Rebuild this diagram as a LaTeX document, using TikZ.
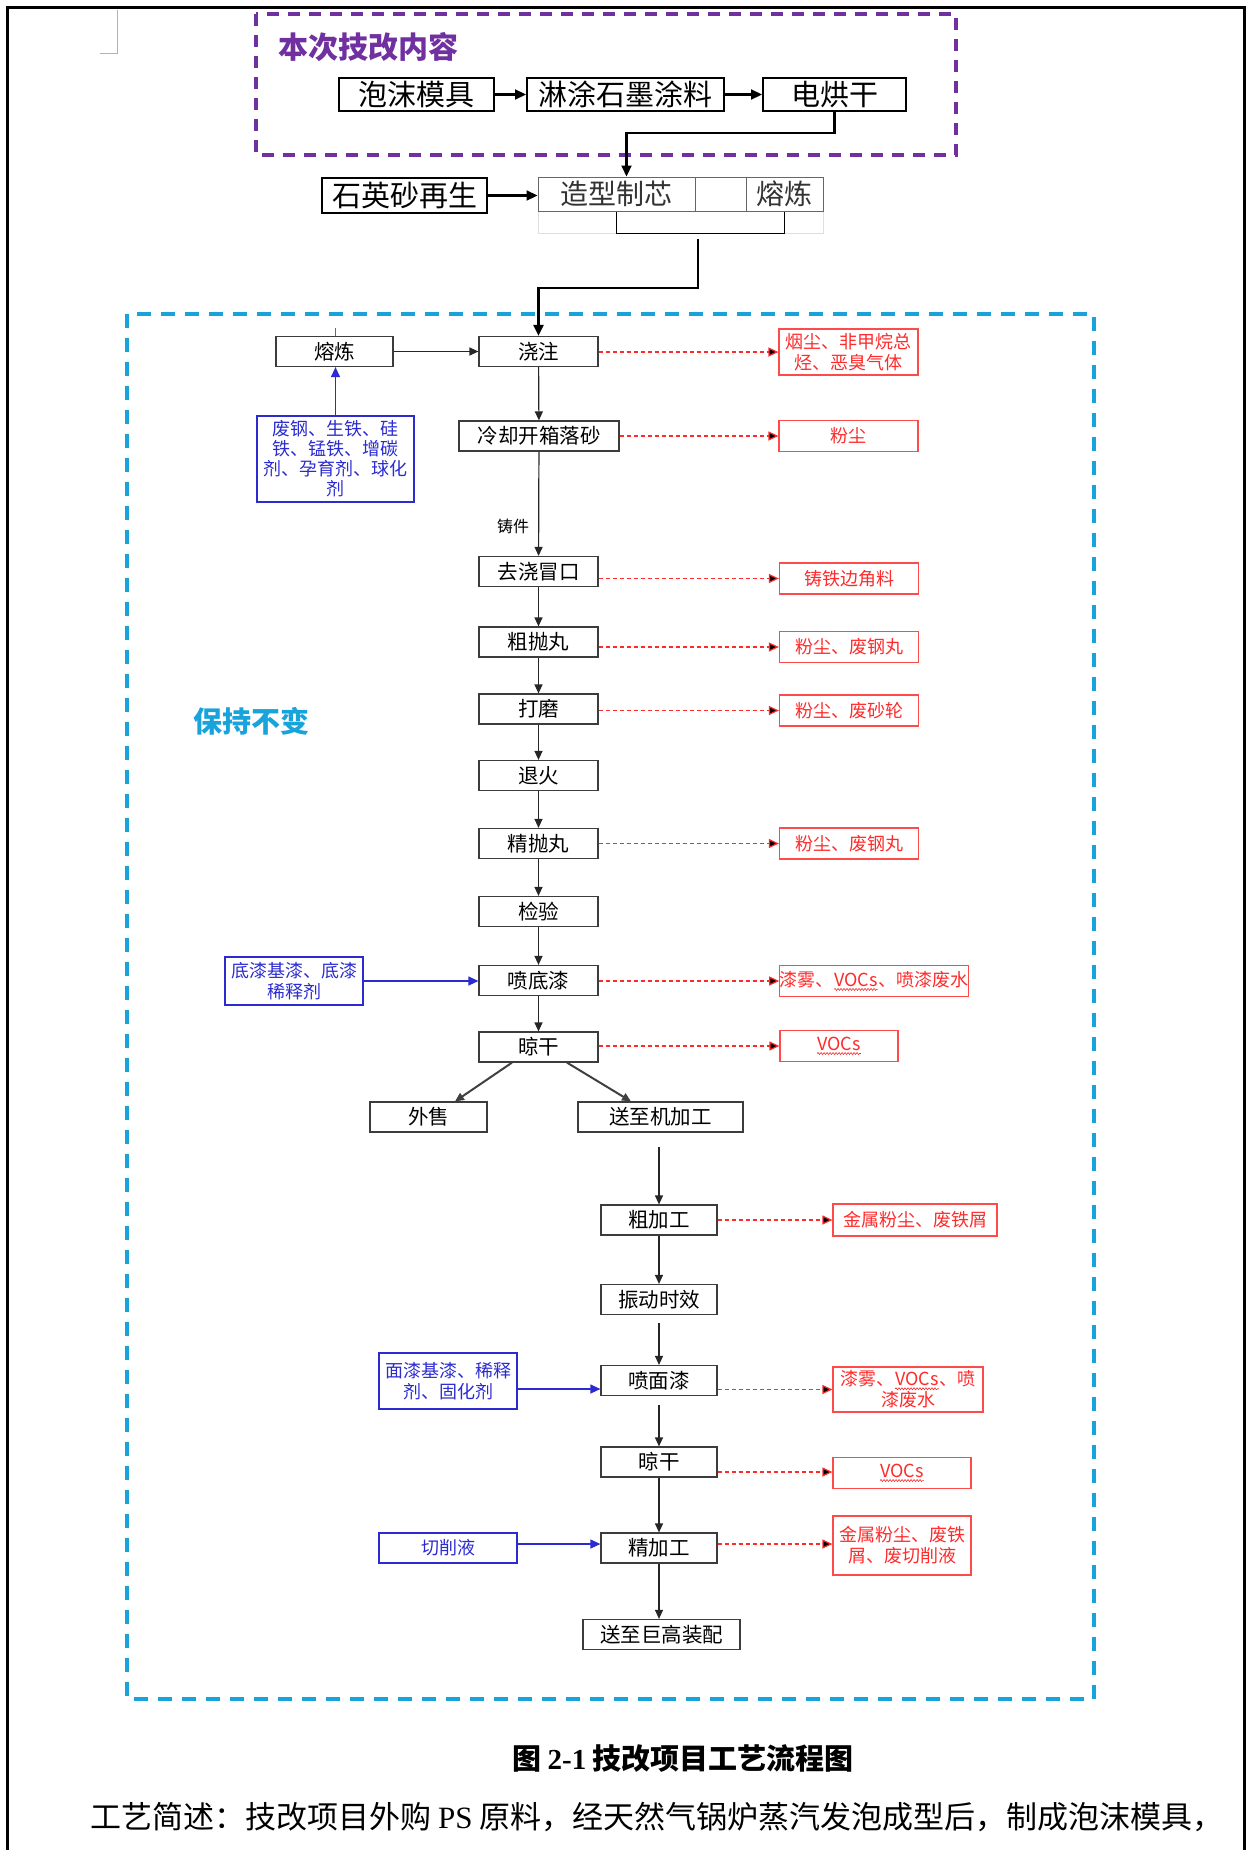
\documentclass[tikz,border=0pt]{standalone}
\usepackage{fontspec}
\setmainfont{Liberation Serif}
\newfontfamily\cjk{Noto Sans CJK SC}
\usetikzlibrary{arrows.meta, calc, decorations.pathmorphing}
\definecolor{purpledash}{HTML}{7030A0}
\definecolor{cyandash}{HTML}{19A3DB}
\definecolor{wastered}{HTML}{FF2A2A}
\definecolor{feedblue}{HTML}{2B2BD0}
\definecolor{boxgray}{HTML}{3C3C3C}
\newcommand\wavy[1]{\tikz[baseline=(wv.base), x=1pt, y=1pt]{\node[draw=none, fill=none, inner sep=0pt, minimum width=0pt, minimum height=0pt] (wv) {#1};
  \draw[wastered, line width=0.6pt, decorate, decoration={snake, amplitude=1pt, segment length=3pt}] ([yshift=-2.5pt]wv.south west) -- ([yshift=-2.5pt]wv.south east);}}

\begin{document}
\begin{tikzpicture}[x=1pt, y=-1pt,
    topbox/.style = {draw=black, line width=2pt, inner sep=0pt, minimum height=33pt, font=\cjk\fontsize{29}{32}\selectfont},
    cell/.style = {draw=black!60, line width=1pt, inner sep=0pt, minimum height=34pt, font=\cjk\fontsize{28}{31}\selectfont},
    procbox/.style = {draw=boxgray, line width=1.2pt, inner sep=0pt, minimum width=119pt, minimum height=30pt, font=\cjk\fontsize{20.5}{23}\selectfont},
    wastebox/.style = {draw=wastered!85, line width=1.2pt, inner sep=0pt, text=wastered, align=center, minimum width=139pt, minimum height=31pt, font=\cjk\fontsize{18}{21}\selectfont},
    feedbox/.style = {draw=feedblue, line width=1.2pt, inner sep=0pt, text=feedblue, align=center, minimum width=138pt, minimum height=30pt, font=\cjk\fontsize{18}{21}\selectfont},
    topflow/.style = {draw=black, line width=2.2pt, -{Triangle[length=11pt,width=10pt]}},
    flow/.style = {draw=black!85, line width=1.2pt, -{Triangle[length=9pt,width=8pt]}},
    wasteflow/.style = {draw=wastered, line width=1.2pt, dash pattern=on 4pt off 3pt, -{Triangle[length=10pt,width=9pt]}},
    feedflow/.style = {draw=feedblue, line width=1.2pt, -{Triangle[length=10pt,width=9pt]}}
]
\useasboundingbox (0,0) rectangle (1247,1850);

% Page frame
\draw [line width=3pt] (7,1850) -- (7,7) -- (1244,7) -- (1244,1850);
\draw [gray!60, line width=0.8pt] (100,53) -- (117,53) -- (117,10);

% Upgrade section
\draw [purpledash, line width=3.5pt, dash pattern=on 12pt off 9pt] (256,14) rectangle (956,155);
\node (newtitle) [anchor=west, text=purpledash, font=\cjk\bfseries\fontsize{30}{33}\selectfont] at (275,47) {本次技改内容};
\node (pm) [topbox, minimum width=155pt] at (416.5,94.5) {泡沫模具};
\node (lt) [topbox, minimum width=197pt] at (625.5,94.5) {淋涂石墨涂料};
\node (dhg) [topbox, minimum width=143pt] at (834.5,94.5) {电烘干};
\node (sys) [topbox, minimum width=165pt, minimum height=35pt] at (404.5,195.5) {石英砂再生};

% Moulding table
\node (row2) [draw=gray!25, line width=0.8pt, minimum width=285pt, minimum height=22pt, inner sep=0pt] at (680.5,222) {};
\node (zx) [cell, minimum width=157pt, text=black!80] at (616.5,194) {造型制芯};
\node (gap) [cell, minimum width=51pt] at (720.5,194) {};
\node (rl) [cell, minimum width=77pt, text=black!80] at (784.5,194) {熔炼};
\coordinate (brk) at (698,239);

\draw [topflow] (pm) -- (lt);
\draw [topflow] (lt) -- (dhg);
\draw [topflow] (dhg.south) -- ++(0,21) -| ([xshift=10pt]zx.north);
\draw [topflow] (sys.east) -- (sys.east -| zx.west);
\draw [black, line width=1.8pt] (zx.south) -- ++(0,22) -| (rl.south);

% Unchanged section
\draw [cyandash, line width=4pt, dash pattern=on 14pt off 10pt] (127,314) rectangle (1094,1699);
\node (keep) [text=cyandash, font=\cjk\bfseries\fontsize{29}{32}\selectfont] at (251,721) {保持不变};

% Casting line
\node (rl2) [procbox, minimum width=117pt] at (334.5,351.5) {熔炼};
\node (jz) [procbox] at (538.5,351.5) {浇注};
\node (lq) [procbox, minimum width=160pt] at (539,436) {冷却开箱落砂};
\node (qj) [procbox] at (538.5,571.5) {去浇冒口};
\node (pw1) [procbox] at (538.5,642) {粗抛丸};
\node (dm) [procbox] at (538.5,709) {打磨};
\node (th) [procbox] at (538.5,775.5) {退火};
\node (jp) [procbox] at (538.5,843.5) {精抛丸};
\node (jy) [procbox] at (538.5,911.5) {检验};
\node (pd) [procbox] at (538.5,980.5) {喷底漆};
\node (lg1) [procbox] at (538.5,1047) {晾干};
\node (ws) [procbox, minimum width=117pt] at (428.5,1117) {外售};
\node (sj) [procbox, minimum width=165pt] at (660.5,1117) {送至机加工};

% Machining line
\node (cj) [procbox, minimum width=116pt] at (659,1220) {粗加工};
\node (zd) [procbox, minimum width=116pt] at (659,1299.5) {振动时效};
\node (pm2) [procbox, minimum width=116pt] at (659,1380.5) {喷面漆};
\node (lg2) [procbox, minimum width=116pt] at (659,1462) {晾干};
\node (jj) [procbox, minimum width=116pt] at (659,1548) {精加工};
\node (zp) [procbox, minimum width=157pt] at (661.5,1634.5) {送至巨高装配};

% Inputs
\node (feed1) [feedbox, minimum width=157pt, minimum height=86pt, font=\cjk\fontsize{18}{20}\selectfont] at (335.5,459) {废钢、生铁、硅\\铁、锰铁、增碳\\剂、孕育剂、球化\\剂};
\node (feed2) [feedbox, minimum height=48pt] at (294,981) {底漆基漆、底漆\\稀释剂};
\node (feed3) [feedbox, minimum height=56pt] at (448,1381) {面漆基漆、稀释\\剂、固化剂};
\node (feed4) [feedbox] at (448,1548) {切削液};

% Emissions
\node (ys1) [wastebox, minimum height=46pt] at (848.5,352) {烟尘、非甲烷总\\烃、恶臭气体};
\node (fc1) [wastebox] at (848.5,436) {粉尘};
\node (zj) [wastebox] at (849,578.5) {铸铁边角料};
\node (fc2) [wastebox] at (849,647) {粉尘、废钢丸};
\node (fc3) [wastebox] at (849,710.5) {粉尘、废砂轮};
\node (fc4) [wastebox] at (849,843.5) {粉尘、废钢丸};
\node (pq1) [wastebox, minimum width=188pt] at (874,981) {漆雾、\wavy{VOCs}、喷漆废水};
\node (voc1) [wastebox, minimum width=118pt] at (839,1046) {\wavy{VOCs}};
\node (jf1) [wastebox, minimum width=164pt, minimum height=32pt] at (915,1220) {金属粉尘、废铁屑};
\node (pq2) [wastebox, minimum width=150pt, minimum height=45pt] at (908,1389.5) {漆雾、\wavy{VOCs}、喷\\漆废水};
\node (voc2) [wastebox, minimum width=138pt] at (902,1473) {\wavy{VOCs}};
\node (jf2) [wastebox, minimum width=138pt, minimum height=59pt] at (902,1545.5) {金属粉尘、废铁\\屑、废切削液};

% Main flow
\draw [wastered, line width=1pt] (rl2.north) ++(0.5,-8) -- ++(0,8);
\draw [flow] (rl2) -- (jz);
\draw [feedflow] (feed1.north) -- (feed1.north |- rl2.south);
\draw [topflow] (brk) -- ++(0,49) -| (jz.north);
\draw [flow] (jz) -- (lq);
\draw [flow] (lq) -- node[left, pos=0.72, inner sep=9pt, font=\cjk\fontsize{16}{18}\selectfont] {铸件} (qj);
\draw [flow] (qj) -- (pw1);
\draw [flow] (pw1) -- (dm);
\draw [flow] (dm) -- (th);
\draw [flow] (th) -- (jp);
\draw [flow] (jp) -- (jy);
\draw [flow] (jy) -- (pd);
\draw [flow] (pd) -- (lg1);
\draw [flow, line width=2pt, draw=black!75] ([xshift=-26.5pt]lg1.south) -- ([xshift=26.5pt]ws.north);
\draw [flow, line width=2pt, draw=black!75] ([xshift=28.5pt]lg1.south) -- ([xshift=-29.5pt]sj.north);
\draw [flow, shorten <=14pt] (cj.north |- sj.south) -- (cj.north);
\draw [flow] (cj) -- (zd);
\draw [flow, shorten <=8pt] (zd) -- (pm2);
\draw [flow, shorten <=9pt] (pm2) -- (lg2);
\draw [flow] (lg2) -- (jj);
\draw [flow] (jj) -- (cj.south |- zp.north);

% Input arrows
\draw [feedflow] (feed2.east) -- (feed2.east -| pd.west);
\draw [feedflow] ([yshift=-8pt]feed3.east) -- ([yshift=-8pt]feed3.east -| pm2.west);
\draw [feedflow] ([yshift=4pt]feed4.east) -- ([yshift=4pt]feed4.east -| jj.west);

% Emission arrows
\draw [wasteflow] (jz.east |- ys1) -- (ys1.west);
\draw [wasteflow] (lq.east |- fc1) -- (fc1.west);
\draw [wasteflow] (qj.east |- zj) -- (zj.west);
\draw [wasteflow] (pw1.east |- fc2) -- (fc2.west);
\draw [wasteflow] (dm.east |- fc3) -- (fc3.west);
\draw [wasteflow] (jp.east |- fc4) -- (fc4.west);
\draw [wasteflow] (pd.east |- pq1) -- (pq1.west);
\draw [wasteflow] (lg1.east |- voc1) -- (voc1.west);
\draw [wasteflow] (cj.east |- jf1) -- (jf1.west);
\draw [wasteflow] (pm2.east |- pq2) -- (pq2.west);
\draw [wasteflow] ([yshift=-10pt]lg2.east) -- ([yshift=-10pt]lg2.east -| voc2.west);
\draw [wasteflow] ([yshift=4pt]jj.east) -- ([yshift=4pt]jj.east -| jf2.west);

% Caption and text
\node (cap) [font=\cjk\bfseries\fontsize{29}{33}\selectfont] at (683,1758) {图 {\rmfamily\bfseries 2-1} 技改项目工艺流程图};
\node (desc) [anchor=west, inner sep=0pt, font=\cjk\fontsize{31}{34}\selectfont] at (90,1817) {工艺简述：技改项目外购 {\rmfamily PS} 原料，经天然气锅炉蒸汽发泡成型后，制成泡沫模具，};

\end{tikzpicture}
\end{document}
